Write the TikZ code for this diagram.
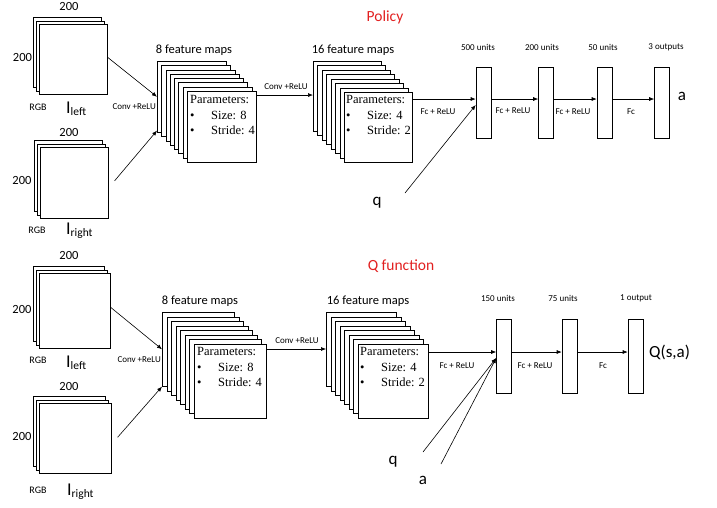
\documentclass[tikz,border=0pt]{standalone}
\usepackage{fontspec}
\setmainfont{Carlito}
\newfontfamily\tnr{Liberation Serif}
\usetikzlibrary{arrows.meta,calc}
\definecolor{titlered}{RGB}{226,32,32}
\tikzset{
  sheet/.style={draw, fill=white, line width=0.6pt, inner sep=0, anchor=north west},
  fcbar/.style={draw, fill=white, line width=0.6pt, inner sep=0, minimum width=15pt},
  conn/.style={line width=0.6pt, -{Latex[length=5pt,width=4pt]}},
  small/.style={font=\fontsize{9}{10}\selectfont, inner sep=0},
  mid/.style={font=\fontsize{12.5}{14}\selectfont, inner sep=0},
  rgb/.style={font=\fontsize{10}{12}\selectfont, inner sep=0, anchor=base},
  big/.style={font=\fontsize{17}{19}\selectfont, inner sep=0},
  imglbl/.style={inner sep=0, anchor=base west},
  params/.style={font=\tnr\fontsize{12.5}{15.5}\selectfont, align=left, inner sep=0, anchor=north west},
  ttl/.style={font=\fontsize{15.5}{18}\selectfont, text=titlered, inner sep=0},
}
\newcommand\imgstack[5]{%
  \node[sheet, minimum width=#4pt, minimum height=#5pt] (#1-2) at (#2-5.6,#3-7) {};
  \node[sheet, minimum width=#4pt, minimum height=#5pt] (#1-1) at (#2-2.8,#3-3.5) {};
  \node[sheet, minimum width=#4pt, minimum height=#5pt] (#1) at (#2,#3) {};}
\newcommand\fmstack[6]{%
  \foreach \i in {0,...,7}{%
    \node[sheet, minimum width=#5pt, minimum height=#6pt] (#1-\i) at ({#2+\i*#4},{#3+\i*#4}) {};}}
\newcommand\paramtext[2]{Parameters:\\\makebox[21pt][l]{\textbullet}Size: #1\\\makebox[21pt][l]{\textbullet}Stride: #2}
\newcommand\imgname[1]{{\fontsize{18}{20}\selectfont I}\raisebox{-2pt}{\fontsize{11.5}{13}\selectfont #1}}
\begin{document}
\begin{tikzpicture}[x=1pt,y=-1pt]
\useasboundingbox (0,0) rectangle (717,507);
\fill[white] (0,0) rectangle (717,507);

% titles
\node[ttl] (t1) at (385,17) {Policy};
\node[ttl] (t2) at (401,266) {Q function};

% ---------------- Policy ----------------
\imgstack{imA}{39}{24}{68}{70}
\node[mid] (imA-w) at (69,6.5) {200};
\node[mid] (imA-h) at (22.5,57.5) {200};
\node[rgb] (imA-c) at (38,110) {RGB};
\node[imglbl] (imA-n) at (66,113) {\imgname{left}};

\imgstack{imB}{40}{147}{68}{71}
\node[mid] (imB-w) at (69,132) {200};
\node[mid] (imB-h) at (22,180) {200};
\node[rgb] (imB-c) at (37,233) {RGB};
\node[imglbl] (imB-n) at (66,234) {\imgname{right}};

\fmstack{sA}{157}{61}{4.29}{69}{71}
\node[params] (pA) at (190,95.5) {\paramtext{8}{4}};
\node[mid] (sA-l) at (194,50) {8 feature maps};

\fmstack{tA}{313}{61}{4.43}{68}{70}
\node[params] (pA2) at (346,95.5) {\paramtext{4}{2}};
\node[mid] (tA-l) at (353,50) {16 feature maps};

\node[fcbar, minimum height=71pt] (fa1) at (483.5,102.5) {};
\node[fcbar, minimum height=71pt] (fa2) at (546,102.5) {};
\node[fcbar, minimum height=71pt] (fa3) at (604.5,102.5) {};
\node[fcbar, minimum height=71pt] (fa4) at (662,102.5) {};
\node[small] (fa1-l) at (478,47) {500 units};
\node[small] (fa2-l) at (542,47) {200 units};
\node[small] (fa3-l) at (603,47) {50 units};
\node[small] (fa4-l) at (666,47) {3 outputs};

\node[big] (qA) at (377,203) {q};
\node[big] (aA) at (682,96) {a};

% connectors policy
\coordinate (cA1) at ($(imB.east)+(6,-2)$);
\draw[conn] ([yshift=2pt]imA.east) -- (sA-0.west);
\draw[conn] (cA1) -- ([yshift=2pt]sA-0.south west);
\node[small, anchor=east] (cvA1) at (156,107) {Conv +ReLU};
\coordinate (cA2) at ([yshift=-4pt]sA-7.north east);
\draw[conn] (cA2) -- (cA2 -| tA-0.west);
\node[small] (cvA2) at (286,87) {Conv +ReLU};
\coordinate (cA3) at ([yshift=-7pt]tA-7.north east);
\draw[conn] (cA3) -- (cA3 -| fa1.west);
\node[small] (fcA1) at (438,112) {Fc + ReLU};
\coordinate (qA0) at ($(qA)+(28,-10)$);
\draw[conn] (qA0) -- ([yshift=-2.5pt]fa1.west);
\draw[conn] ([yshift=3.5pt]fa1.east) -- ([yshift=3.5pt]fa2.west);
\draw[conn] ([yshift=3.5pt]fa2.east) -- ([yshift=3.5pt]fa3.west);
\draw[conn] ([yshift=3.5pt]fa3.east) -- ([yshift=3.5pt]fa4.west);
\node[small] (fcA2) at (513,111) {Fc + ReLU};
\node[small] (fcA3) at (573,112) {Fc + ReLU};
\node[small] (fcA4) at (631,112) {Fc};

% ---------------- Q function ----------------
\imgstack{imC}{39}{273}{71}{75}
\node[mid] (imC-w) at (69,255) {200};
\node[mid] (imC-h) at (22,309) {200};
\node[rgb] (imC-c) at (38,363) {RGB};
\node[imglbl] (imC-n) at (66,367) {\imgname{left}};

\imgstack{imD}{39}{403}{72}{70}
\node[mid] (imD-w) at (69,386) {200};
\node[mid] (imD-h) at (22,436) {200};
\node[rgb] (imD-c) at (38,493) {RGB};
\node[imglbl] (imD-n) at (67,495) {\imgname{right}};

\fmstack{sB}{162}{312}{4.57}{72}{74}
\node[params] (pB) at (197,347.5) {\paramtext{8}{4}};
\node[mid] (sB-l) at (200,301) {8 feature maps};

\fmstack{tB}{326}{312}{4.57}{70}{74}
\node[params] (pB2) at (360,347.5) {\paramtext{4}{2}};
\node[mid] (tB-l) at (368,301) {16 feature maps};

\node[fcbar, minimum height=74pt] (fb1) at (504,356) {};
\node[fcbar, minimum height=74pt] (fb2) at (569.5,356) {};
\node[fcbar, minimum height=74pt] (fb3) at (635.5,356) {};
\node[small] (fb1-l) at (498,298) {150 units};
\node[small] (fb2-l) at (563,298) {75 units};
\node[small] (fb3-l) at (636,298) {1 output};

\node[big] (qB) at (393,462) {q};
\node[big] (aB) at (423,480) {a};
\node[big, anchor=west] (QB) at (649,352) {Q(s,a)};

% connectors Q function
\coordinate (cB1) at ($(imD.east)+(6,-1)$);
\draw[conn] ([yshift=3.5pt]imC.east) -- (sB-0.west);
\draw[conn] (cB1) -- (sB-0.south west);
\node[small, anchor=east] (cvB1) at (161,360) {Conv +ReLU};
\coordinate (cB2) at ([yshift=-5pt]sB-7.north east);
\draw[conn] (cB2) -- (cB2 -| tB-0.west);
\node[small] (cvB2) at (297,341) {Conv +ReLU};
\coordinate (cB3) at ([yshift=-8pt]tB-7.north east);
\draw[conn] (cB3) -- (cB3 -| fb1.west);
\node[small] (fcB1) at (457,366) {Fc + ReLU};
\coordinate (qB0) at ($(qB)+(30,-10)$);
\coordinate (aB0) at ($(aB)+(18,-16)$);
\draw[conn] (qB0) -- ([yshift=-2pt]fb1.west);
\draw[conn] (aB0) -- ([yshift=-2pt]fb1.west);
\draw[conn] ([yshift=4pt]fb1.east) -- ([yshift=4pt]fb2.west);
\draw[conn] ([yshift=4pt]fb2.east) -- ([yshift=4pt]fb3.west);
\node[small] (fcB2) at (535,366) {Fc + ReLU};
\node[small] (fcB3) at (603,366) {Fc};
\end{tikzpicture}
\end{document}
